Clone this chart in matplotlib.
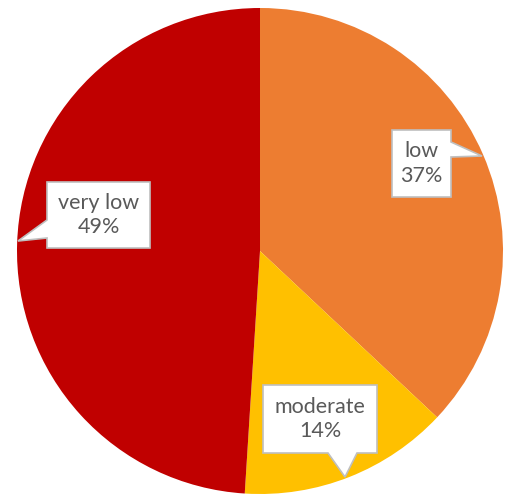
import matplotlib
matplotlib.use("Agg")
import matplotlib.pyplot as plt
from matplotlib.patches import Polygon

labels = ["low", "moderate", "very low"]
values = [37, 14, 49]
colors = ["#ED7D31", "#FFC000", "#C00000"]

W, H = 506, 495
fig = plt.figure(figsize=(W / 100, H / 100), dpi=100)
ax = fig.add_axes([0, 0, 1, 1])

# pie drawn in pixel space (y axis inverted, so counterclock=True gives clockwise on screen)
ax.pie(values, colors=colors, startangle=-90, counterclock=True,
       center=(260, 251), radius=243, frame=True,
       wedgeprops=dict(linewidth=0))
ax.set_xlim(0, W)
ax.set_ylim(H, 0)
ax.axis("off")

# callout boxes: (left, top, right, bottom), pointer side, pointer base, tip
callouts = {
    "low": ((392, 130, 451, 197), "right", (142, 157), (482, 156)),
    "very low": ((47, 182, 150, 248), "left", (220, 238), (18, 241)),
    "moderate": ((263, 385, 377, 453), "bottom", (328, 357), (345, 477)),
}

for lab, val in zip(labels, values):
    (l, t, r, b), side, (a0, a1), tip = callouts[lab]
    if side == "right":
        pts = [(l, t), (r, t), (r, a0), tip, (r, a1), (r, b), (l, b)]
    elif side == "left":
        pts = [(l, t), (r, t), (r, b), (l, b), (l, a1), tip, (l, a0)]
    else:
        pts = [(l, t), (r, t), (r, b), (a1, b), tip, (a0, b), (l, b)]
    ax.add_patch(Polygon(pts, closed=True, facecolor="white",
                         edgecolor="#BFBFBF", linewidth=1.2, zorder=3))
    cx = (l + r) / 2
    cy = (t + b) / 2
    ax.text(cx, cy, f"{lab}\n{val}%", ha="center", va="center",
            fontsize=15.5, family="Lato", color="#595959",
            linespacing=1.3, zorder=4)

fig.savefig("out.png", dpi=100)
